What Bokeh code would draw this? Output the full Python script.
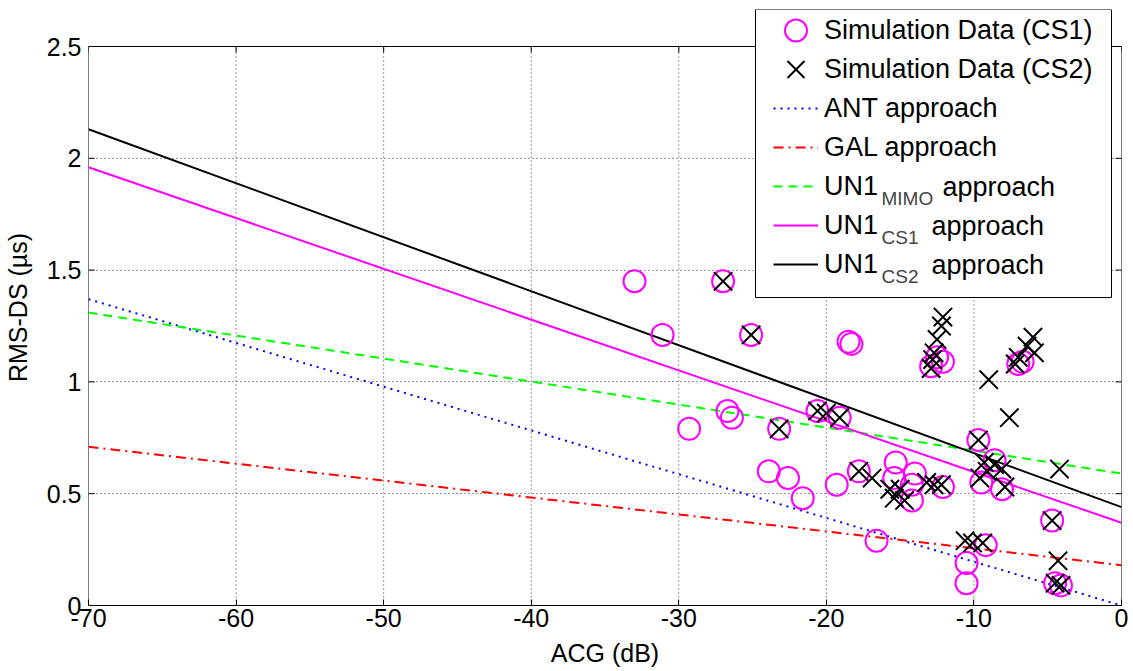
from bokeh.plotting import figure
from bokeh.models import (Legend, LegendItem, Label, FixedTicker, BoxAnnotation,
                          NumeralTickFormatter, Range1d)
from bokeh.embed import file_html
from bokeh.resources import INLINE

# ---------------- data ----------------
cs1_acg = [-33.0, -31.1, -27.0, -25.1, -29.3, -26.7, -26.4, -23.2, -20.6, -19.1,
           -18.5, -18.3, -23.9, -22.6, -21.6, -19.3, -17.8, -16.6, -15.3, -15.4,
           -14.0, -14.2, -14.2, -12.1, -12.5, -12.1, -12.9, -9.7, -8.6, -9.5,
           -8.1, -10.5, -10.5, -9.2, -7.0, -6.7, -4.7, -4.5, -4.1]
cs1_ds = [1.45, 1.21, 1.45, 1.21, 0.79, 0.87, 0.84, 0.79, 0.87, 0.84,
          1.18, 1.17, 0.60, 0.57, 0.48, 0.54, 0.60, 0.29, 0.64, 0.57,
          0.59, 0.54, 0.47, 0.53, 1.11, 1.09, 1.07, 0.74, 0.65, 0.55,
          0.52, 0.19, 0.10, 0.27, 1.08, 1.09, 0.38, 0.10, 0.09]

cs2_acg = [-27.0, -25.1, -23.2, -20.6, -20.0, -19.1, -17.8, -16.9, -15.7, -15.4,
           -15.0, -14.7, -13.2, -12.7, -12.2, -12.1, -12.2, -12.5, -12.7, -12.8,
           -12.9, -9.0, -7.6, -6.0, -5.9, -6.4, -7.0, -7.2, -9.7, -9.3,
           -8.6, -8.1, -9.1, -9.6, -7.9, -4.2, -4.7, -10.6, -10.1, -9.4,
           -4.3, -4.5, -4.1]
cs2_ds = [1.45, 1.21, 0.79, 0.87, 0.86, 0.84, 0.60, 0.57, 0.52, 0.48,
          0.52, 0.47, 0.55, 0.54, 0.54, 1.29, 1.25, 1.19, 1.13, 1.10,
          1.06, 1.01, 0.84, 1.20, 1.13, 1.16, 1.11, 1.08, 0.74, 0.64,
          0.63, 0.61, 0.60, 0.57, 0.53, 0.61, 0.38, 0.29, 0.28, 0.28,
          0.20, 0.10, 0.09]

line_acg = [-70, 0]
ant_ds = [1.37, 0.0]
gal_ds = [0.71, 0.18]
un1_mimo_ds = [1.31, 0.59]
un1_cs1_ds = [1.96, 0.37]
un1_cs2_ds = [2.13, 0.44]

x_ticks = [-70, -60, -50, -40, -30, -20, -10, 0]
y_ticks = [0, 0.5, 1.0, 1.5, 2.0, 2.5]

FONT = "Liberation Sans"
MAGENTA, GREEN, RED, BLUE = "#FF00FF", "#00FF00", "#FF0000", "#0000FF"

# ---------------- geometry (screen px) ----------------
FRAME_W, FRAME_H = 1033, 596
TOP_GAP = 37                      # px between frame top (legend top) and y = 2.5
x_span = x_ticks[-1] - x_ticks[0]
y_top = y_ticks[-1] + TOP_GAP * y_ticks[-1] / (FRAME_H - TOP_GAP)
TICK = 6
dx_tick = TICK * x_span / FRAME_W
dy_tick = TICK * y_top / FRAME_H

p = figure(frame_width=FRAME_W, frame_height=FRAME_H,
           x_range=Range1d(x_ticks[0], x_ticks[-1]), y_range=Range1d(y_ticks[0], y_top),
           output_backend="svg", toolbar_location=None,
           min_border_left=88, min_border_right=8, min_border_top=9, min_border_bottom=10,
           background_fill_color="white", border_fill_color="white")
p.outline_line_color = None

p.xaxis.ticker = FixedTicker(ticks=x_ticks)
p.yaxis.ticker = FixedTicker(ticks=y_ticks)
p.xaxis.formatter = NumeralTickFormatter(format="0")
p.yaxis.formatter = NumeralTickFormatter(format="0.[0]")
p.xaxis.axis_label = "ACG (dB)"
p.yaxis.axis_label = "RMS-DS (µs)"
for ax in (p.xaxis[0], p.yaxis[0]):
    ax.axis_line_color = "black"
    ax.major_tick_in = TICK
    ax.major_tick_out = 0
    ax.minor_tick_line_color = None
    ax.major_tick_line_color = "black"
    ax.major_label_text_font = FONT
    ax.major_label_text_font_size = "25px"
    ax.major_label_text_color = "black"
    ax.axis_label_text_font = FONT
    ax.axis_label_text_font_size = "25px"
    ax.axis_label_text_font_style = "normal"
    ax.axis_label_text_color = "black"
p.yaxis.axis_line_color = None
p.yaxis.major_tick_line_color = None
p.xaxis.major_label_standoff = 3
p.xaxis.axis_label_standoff = 9
p.yaxis.major_label_standoff = 7
p.yaxis.axis_label_standoff = 12

# grid: horizontal from the ygrid, vertical as dotted segments stopping at 2.5
p.xgrid.visible = False
p.ygrid.ticker = FixedTicker(ticks=y_ticks[1:-1])
p.ygrid.grid_line_color = "#333333"
p.ygrid.grid_line_dash = "1 3"
p.ygrid.grid_line_width = 1
inner_x = x_ticks[1:-1]
p.segment(x0=inner_x, y0=[y_ticks[0]] * len(inner_x), x1=inner_x,
          y1=[y_ticks[-1]] * len(inner_x), line_color="#333333", line_dash="1 3",
          line_width=1)

# axes box (left, top, right) and inward ticks on all sides
p.segment(x0=[x_ticks[0], x_ticks[0], x_ticks[-1]],
          y0=[y_ticks[0], y_ticks[-1], y_ticks[0]],
          x1=[x_ticks[0], x_ticks[-1], x_ticks[-1]],
          y1=[y_ticks[-1], y_ticks[-1], y_ticks[-1]],
          line_color="black", line_width=1)
p.segment(x0=[x_ticks[0]] * len(y_ticks), y0=y_ticks,
          x1=[x_ticks[0] + dx_tick] * len(y_ticks), y1=y_ticks,
          line_color="black", line_width=1)
p.segment(x0=[x_ticks[-1]] * len(y_ticks), y0=y_ticks,
          x1=[x_ticks[-1] - dx_tick] * len(y_ticks), y1=y_ticks,
          line_color="black", line_width=1)
p.segment(x0=x_ticks, y0=[y_ticks[-1]] * len(x_ticks),
          x1=x_ticks, y1=[y_ticks[-1] - dy_tick] * len(x_ticks),
          line_color="black", line_width=1)

# ---------------- glyphs ----------------
r_ant = p.line(line_acg, ant_ds, line_color=BLUE, line_width=2, line_dash="2 5")
r_gal = p.line(line_acg, gal_ds, line_color=RED, line_width=2, line_dash="10 5 2 5")
r_mimo = p.line(line_acg, un1_mimo_ds, line_color=GREEN, line_width=2, line_dash="9 6")
r_un1 = p.line(line_acg, un1_cs1_ds, line_color=MAGENTA, line_width=2)
r_un2 = p.line(line_acg, un1_cs2_ds, line_color="black", line_width=2)
p.scatter(cs1_acg, cs1_ds, marker="circle", size=22, fill_color=None,
          line_color=MAGENTA, line_width=2)
p.scatter(cs2_acg, cs2_ds, marker="x", size=26, line_color="black", line_width=2)

# ---------------- legend ----------------
GW, STAND, ROWH, SPACING = 45, 6, 32, 7
BOX_X, BOX_W, BOX_H = 667, 356, 288
TOP_IN = 5                         # px from box top to first row top
LABEL_X = 736                      # frame px where legend labels start
LEG_X = LABEL_X - GW - STAND
N_ROWS = 7
LEG_INNER_H = N_ROWS * ROWH + (N_ROWS - 1) * SPACING
LEG_Y = FRAME_H - TOP_IN - LEG_INNER_H


def row_center(k):
    return FRAME_H - TOP_IN - k * (ROWH + SPACING) - ROWH / 2


p.add_layout(BoxAnnotation(left=BOX_X, right=BOX_X + BOX_W, bottom=FRAME_H - BOX_H,
                           top=FRAME_H,
                           left_units="screen", right_units="screen",
                           bottom_units="screen", top_units="screen",
                           fill_color="white", fill_alpha=1.0,
                           line_color="black", line_width=1, line_alpha=1.0))

# legend entries for the markers: invisible samples, full-size markers drawn on top
leg_cs1 = p.scatter(x=[], y=[], marker="circle", line_alpha=0, fill_alpha=0)
leg_cs2 = p.scatter(x=[], y=[], marker="x", line_alpha=0, fill_alpha=0)
mk_x = x_ticks[0] + (LEG_X + GW / 2) * x_span / FRAME_W
p.scatter(x=[mk_x], y=[row_center(0) * y_top / FRAME_H], marker="circle", size=22,
          fill_color=None, line_color=MAGENTA, line_width=2, level="overlay")
p.scatter(x=[mk_x], y=[row_center(1) * y_top / FRAME_H], marker="x", size=24,
          line_color="black", line_width=2, level="overlay")

legend = Legend(items=[
    LegendItem(label="Simulation Data (CS1)", renderers=[leg_cs1]),
    LegendItem(label="Simulation Data (CS2)", renderers=[leg_cs2]),
    LegendItem(label="ANT approach", renderers=[r_ant]),
    LegendItem(label="GAL approach", renderers=[r_gal]),
    LegendItem(label="UN1", renderers=[r_mimo]),
    LegendItem(label="UN1", renderers=[r_un1]),
    LegendItem(label="UN1", renderers=[r_un2]),
], location=(LEG_X, LEG_Y), label_text_font=FONT, label_text_font_size="27px",
   label_text_color="black",
   glyph_width=GW, glyph_height=ROWH, label_height=ROWH, label_standoff=STAND,
   padding=0, spacing=SPACING, margin=0, border_line_color=None,
   background_fill_alpha=0.0)
p.add_layout(legend)

subs = [("MIMO", 4, 118), ("CS1", 5, 107), ("CS2", 6, 107)]
for sub, k, app_off in subs:
    cy = row_center(k)
    p.add_layout(Label(x=LABEL_X + 57, y=cy - 12, x_units="screen", y_units="screen",
                       text=sub, text_font=FONT, text_font_size="19px",
                       text_color="#444444", text_baseline="middle"))
    p.add_layout(Label(x=LABEL_X + app_off, y=cy, x_units="screen", y_units="screen",
                       text="approach", text_font=FONT, text_font_size="27px",
                       text_color="black", text_baseline="middle"))

open("out.html", "w").write(file_html(p, INLINE))
